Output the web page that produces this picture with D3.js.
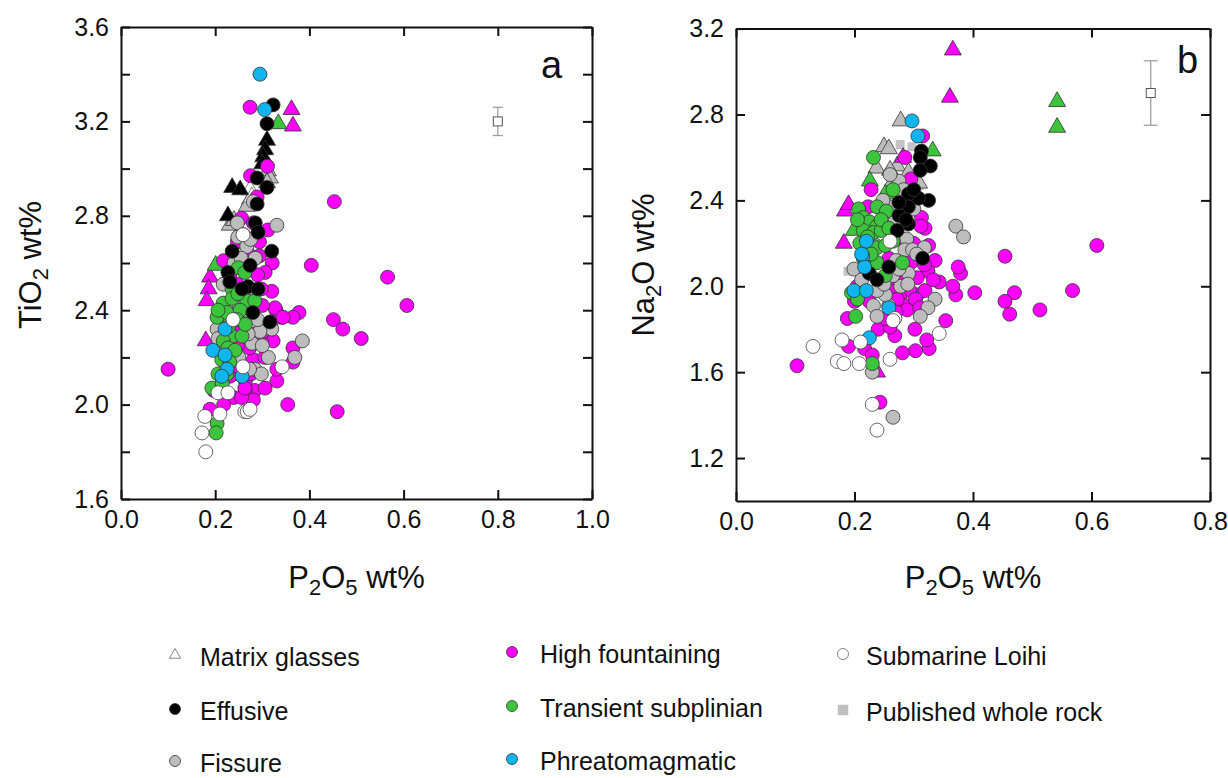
<!DOCTYPE html>
<html><head><meta charset="utf-8">
<script src="https://cdn.jsdelivr.net/npm/d3@7"></script>
<style>
body{margin:0;background:#fff;}
svg text{font-family:"Liberation Sans",Arial,Helvetica,sans-serif;fill:#111;}
</style></head>
<body><svg id="c" width="1228" height="778"></svg>
<script>
// ---------- Panel a : P2O5 vs TiO2 ----------
const aHighCirc=[[0.10,2.15],[0.274,3.26],[0.453,2.86],[0.404,2.59],[0.566,2.54],[0.607,2.42],[0.451,2.36],[0.471,2.32],[0.510,2.28],[0.459,1.97],[0.354,2.00],[0.378,2.39],[0.365,2.37],[0.341,2.37],[0.329,2.40],[0.320,2.48],[0.321,2.60],[0.311,3.01],[0.312,2.74],[0.275,2.97],[0.256,2.79],[0.218,2.61],[0.294,2.63],[0.294,2.69],[0.306,2.56],[0.323,2.27],[0.365,2.24],[0.365,2.18],[0.331,2.10],[0.331,2.15],[0.284,2.06],[0.264,2.06],[0.239,2.03],[0.218,2.00],[0.189,1.98],[0.197,2.06],[0.281,2.19],[0.298,2.27],[0.273,2.24],[0.298,2.49],[0.281,2.44],[0.273,2.37],[0.252,2.32],[0.247,2.25],[0.264,2.10],[0.281,2.02],[0.247,2.51],[0.231,2.54],[0.264,2.57],[0.239,2.13],[0.289,2.88],[0.281,2.77],[0.247,2.69],[0.319,2.35],[0.302,2.31],[0.214,2.24],[0.231,2.12],[0.256,2.03],[0.327,2.41],[0.344,2.37],[0.306,2.07],[0.263,2.07],[0.300,2.42],[0.285,2.30],[0.305,2.20],[0.270,2.64],[0.290,2.55],[0.250,2.16],[0.276,2.13]];
const aHighTri=[[0.362,3.25],[0.365,3.18],[0.189,2.54],[0.186,2.49],[0.182,2.44],[0.180,2.27]];
const aGreenTri=[[0.334,3.19],[0.201,2.59]];
const aBlackTri=[[0.310,3.12],[0.306,3.08],[0.302,3.05],[0.300,3.02],[0.236,2.92],[0.253,2.91],[0.227,2.80]];
const aGrayTri=[[0.312,2.99],[0.316,2.96],[0.274,2.87],[0.267,2.84],[0.231,2.76],[0.310,2.94],[0.240,2.78]];
const aWhiteTri=[[0.274,2.91],[0.278,2.88]];
const aBlackCirc=[[0.323,3.27],[0.310,3.19],[0.289,2.96],[0.310,2.92],[0.289,2.85],[0.285,2.77],[0.291,2.73],[0.320,2.65],[0.236,2.65],[0.227,2.56],[0.231,2.52],[0.274,2.59],[0.270,2.50],[0.291,2.49],[0.280,2.39],[0.316,2.35],[0.257,2.49]];
const aGrayCirc=[[0.331,2.76],[0.385,2.27],[0.369,2.20],[0.313,2.20],[0.284,2.15],[0.278,2.26],[0.320,2.32],[0.295,2.31],[0.248,2.71],[0.267,2.67],[0.285,2.62],[0.204,2.32],[0.206,2.28],[0.247,2.39],[0.264,2.40],[0.298,2.13],[0.273,2.15],[0.281,2.86],[0.247,2.77],[0.222,2.42],[0.240,2.60],[0.270,2.30],[0.250,2.20],[0.290,2.36],[0.217,2.51],[0.260,2.72],[0.255,2.62],[0.275,2.70],[0.232,2.35],[0.260,2.45],[0.212,2.22],[0.300,2.25]];
const aGreenCirc=[[0.249,2.58],[0.263,2.56],[0.236,2.49],[0.217,2.43],[0.236,2.45],[0.267,2.44],[0.284,2.44],[0.204,2.37],[0.225,2.39],[0.253,2.40],[0.246,2.36],[0.236,2.29],[0.257,2.29],[0.217,2.27],[0.227,2.24],[0.242,2.23],[0.214,2.19],[0.231,2.18],[0.206,2.13],[0.225,2.13],[0.193,2.07],[0.204,1.92],[0.202,1.88],[0.264,2.34],[0.206,2.40],[0.228,2.33],[0.248,2.47],[0.215,2.09]];
const aCyan=[[0.295,3.40],[0.305,3.25],[0.221,2.32],[0.195,2.23],[0.221,2.21],[0.225,2.15],[0.214,2.12],[0.257,2.12]];
const aWhite=[[0.238,2.36],[0.259,2.16],[0.342,2.16],[0.206,2.05],[0.227,2.05],[0.210,1.96],[0.178,1.95],[0.172,1.88],[0.180,1.80],[0.259,2.72],[0.263,1.97],[0.268,1.97],[0.274,1.98]];
const aErr=[0.80,3.20,3.14,3.26];

// ---------- Panel b : P2O5 vs Na2O ----------
const bHighCirc=[[0.103,1.63],[0.609,2.19],[0.454,2.14],[0.568,1.98],[0.513,1.89],[0.470,1.97],[0.454,1.93],[0.462,1.87],[0.403,1.97],[0.379,2.06],[0.371,1.96],[0.366,2.00],[0.343,2.02],[0.354,1.84],[0.326,1.71],[0.322,1.75],[0.303,1.70],[0.281,1.69],[0.302,1.80],[0.268,1.77],[0.240,1.80],[0.260,1.81],[0.188,1.85],[0.190,1.72],[0.217,1.71],[0.230,1.68],[0.243,1.46],[0.319,2.27],[0.313,2.32],[0.325,2.19],[0.336,2.12],[0.324,2.07],[0.295,2.50],[0.228,2.45],[0.223,2.37],[0.315,2.70],[0.285,2.60],[0.306,1.96],[0.293,1.98],[0.276,1.95],[0.265,2.00],[0.306,2.04],[0.285,1.91],[0.265,2.04],[0.295,2.11],[0.280,2.22],[0.258,2.13],[0.200,1.93],[0.225,1.93],[0.252,1.85],[0.205,2.00],[0.375,2.09],[0.319,1.98],[0.303,1.94],[0.289,1.89],[0.272,1.94],[0.333,2.03],[0.312,2.28],[0.300,2.20],[0.318,2.10],[0.245,2.02],[0.280,2.05],[0.310,1.90],[0.270,1.88]];
const bHighTri=[[0.366,3.10],[0.361,2.88],[0.182,2.20],[0.184,2.35],[0.190,2.38],[0.238,1.60],[0.282,2.60]];
const bGreenTri=[[0.542,2.86],[0.542,2.74],[0.332,2.63],[0.226,2.49],[0.199,2.26],[0.252,2.43]];
const bGrayTri=[[0.278,2.77],[0.250,2.65],[0.258,2.64],[0.237,2.55],[0.272,2.56],[0.265,2.49],[0.291,2.53],[0.309,2.48],[0.260,2.54]];
const bSquare=[[0.277,2.66],[0.297,2.65],[0.189,2.07],[0.310,2.47]];
const bBlackCirc=[[0.313,2.63],[0.311,2.60],[0.328,2.56],[0.311,2.54],[0.325,2.40],[0.308,2.41],[0.291,2.43],[0.291,2.37],[0.275,2.33],[0.291,2.29],[0.275,2.39],[0.315,2.13],[0.258,2.09],[0.225,2.06],[0.238,2.03],[0.272,2.26],[0.287,2.31],[0.300,2.45]];
const bGrayCirc=[[0.371,2.28],[0.384,2.23],[0.336,1.94],[0.324,1.90],[0.311,1.86],[0.230,1.60],[0.265,1.39],[0.232,1.91],[0.238,1.86],[0.258,1.91],[0.278,2.00],[0.291,2.06],[0.265,2.05],[0.252,1.96],[0.238,1.98],[0.275,2.49],[0.288,2.22],[0.285,2.17],[0.298,2.17],[0.318,2.18],[0.265,2.22],[0.199,2.08],[0.212,2.03],[0.236,2.19],[0.258,2.37],[0.305,2.15],[0.270,2.12],[0.250,2.28],[0.283,2.45],[0.260,2.52],[0.300,2.36],[0.275,2.08],[0.250,2.01],[0.290,2.01],[0.268,2.30],[0.248,2.40]];
const bGreenCirc=[[0.232,2.60],[0.265,2.45],[0.238,2.37],[0.207,2.36],[0.254,2.35],[0.215,2.32],[0.225,2.30],[0.238,2.28],[0.215,2.26],[0.232,2.25],[0.245,2.26],[0.209,2.20],[0.225,2.19],[0.238,2.18],[0.252,2.19],[0.265,2.21],[0.215,2.13],[0.238,2.11],[0.252,2.05],[0.281,2.11],[0.195,1.97],[0.205,1.94],[0.202,1.86],[0.230,1.64],[0.222,2.23],[0.245,2.31],[0.258,2.27],[0.205,2.31],[0.228,2.15]];
const bCyan=[[0.297,2.77],[0.307,2.70],[0.220,2.21],[0.214,2.14],[0.217,2.09],[0.199,1.98],[0.220,1.98],[0.258,1.90],[0.225,1.76],[0.212,2.15]];
const bWhite=[[0.130,1.72],[0.171,1.65],[0.182,1.64],[0.179,1.75],[0.210,1.74],[0.208,1.64],[0.260,1.66],[0.268,1.85],[0.343,1.78],[0.230,1.45],[0.238,1.33],[0.260,2.21],[0.265,1.84]];
const bErr=[0.70,2.90,2.75,3.05];

// ---------- ticks / labels ----------
const aXTicks=[0,0.2,0.4,0.6,0.8,1.0];
const aYTicks=[1.6,1.8,2.0,2.2,2.4,2.6,2.8,3.0,3.2,3.4,3.6];
const aYLabels=[1.6,2.0,2.4,2.8,3.2,3.6];
const bXTicks=[0,0.2,0.4,0.6,0.8];
const bYTicks=[1.2,1.6,2.0,2.4,2.8,3.2];
const legendItems=[
 ["Matrix glasses","tri","#ffffff"],["Effusive","circ","#000000"],["Fissure","circ","#bdbdbd"],
 ["High fountaining","circ","#ff00ff"],["Transient subplinian","circ","#3cc43c"],["Phreatomagmatic","circ","#10b4ee"],
 ["Submarine Loihi","circ","#ffffff"],["Published whole rock","sq","#c0c0c0"]];

const C={mag:"#ff00ff",grn:"#3cc43c",cyan:"#10b4ee",gray:"#bdbdbd",blk:"#000000",wht:"#ffffff"};
const svg=d3.select("#c");
const R=7, TRI=125;

function panel(o){
  const g=svg.append("g");
  const x=d3.scaleLinear().domain(o.xd).range(o.xr);
  const y=d3.scaleLinear().domain(o.yd).range(o.yr);
  const fmt=d3.format(".1f");
  const ax=(gen,tr,vals,lab,pad)=>{
    const a=g.append("g").attr("transform",tr).call(gen.tickValues(vals).tickSizeInner(-9).tickSizeOuter(0).tickPadding(pad)
      .tickFormat(d=>lab&&lab.some(v=>Math.abs(v-d)<1e-9)?fmt(d):""));
    a.select(".domain").attr("stroke","#111").attr("stroke-width",2);
    a.selectAll(".tick line").attr("stroke","#111").attr("stroke-width",2);
    a.selectAll("text").attr("font-size",25).attr("fill","#111").attr("font-family","Liberation Sans, Arial, sans-serif");
  };
  ax(d3.axisBottom(x),`translate(0,${o.yr[0]})`,o.xt,o.xt,11);
  ax(d3.axisTop(x),`translate(0,${o.yr[1]})`,o.xt,null,4);
  ax(d3.axisLeft(y),`translate(${o.xr[0]},0)`,o.yt,o.yl,12);
  ax(d3.axisRight(y),`translate(${o.xr[1]},0)`,o.yt,null,4);
  // error bar
  const e=o.err, ex=x(e[0]);
  g.append("line").attr("x1",ex).attr("x2",ex).attr("y1",y(e[2])).attr("y2",y(e[3])).attr("stroke","#999").attr("stroke-width",1.2);
  [e[2],e[3]].forEach(v=>g.append("line").attr("x1",ex-o.cap).attr("x2",ex+o.cap).attr("y1",y(v)).attr("y2",y(v)).attr("stroke","#999").attr("stroke-width",1.2));
  g.append("rect").attr("x",ex-4.5).attr("y",y(e[1])-4.5).attr("width",9).attr("height",9).attr("fill","#fff").attr("stroke","#555").attr("stroke-width",1);
  // marks
  const tri=d3.symbol().type(d3.symbolTriangle).size(TRI);
  const sq=d3.symbol().type(d3.symbolSquare).size(80);
  o.series.forEach(s=>{
    const sel=g.append("g").selectAll("path").data(s.d).join("path")
      .attr("transform",d=>`translate(${x(d[0])},${y(d[1])})`)
      .attr("fill",s.c);
    if(s.t==="tri") sel.attr("d",tri).attr("stroke",s.c===C.wht?"#666":"#333").attr("stroke-width",0.8);
    else if(s.t==="sq") sel.attr("d",sq).attr("stroke","none");
    else sel.attr("d",d3.symbol().type(d3.symbolCircle).size(Math.PI*R*R)).attr("stroke",s.c===C.wht?"#444":"#333").attr("stroke-width",0.8);
  });
  // titles
  const xt=g.append("text").attr("x",(o.xr[0]+o.xr[1])/2).attr("y",588).attr("text-anchor","middle").attr("font-size",31);
  xt.append("tspan").text("P");
  xt.append("tspan").text("2").attr("font-size",22).attr("dy",7);
  xt.append("tspan").text("O").attr("dy",-7);
  xt.append("tspan").text("5").attr("font-size",22).attr("dy",7);
  xt.append("tspan").text(" wt%").attr("dy",-7);
  const yt=g.append("text").attr("transform",`translate(${o.ytx},265) rotate(-90)`).attr("text-anchor","middle").attr("font-size",31);
  yt.append("tspan").text(o.yname[0]);
  yt.append("tspan").text("2").attr("font-size",22).attr("dy",7);
  yt.append("tspan").text(o.yname[1]).attr("dy",-7);
  g.append("text").attr("x",o.lx).attr("y",o.ly).attr("font-size",38).text(o.letter);
}

panel({xd:[0,1],xr:[121,592],yd:[1.6,3.6],yr:[499,27],xt:aXTicks,yt:aYTicks,yl:aYLabels,err:aErr,cap:5,
  ytx:41,yname:["TiO"," wt%"],letter:"a",lx:541,ly:78,
  series:[
   {d:aGrayTri,c:C.gray,t:"tri"},{d:aWhiteTri,c:C.wht,t:"tri"},{d:aHighTri,c:C.mag,t:"tri"},{d:aGreenTri,c:C.grn,t:"tri"},{d:aBlackTri,c:C.blk,t:"tri"},
   {d:aHighCirc,c:C.mag},{d:aGrayCirc,c:C.gray},{d:aGreenCirc,c:C.grn},{d:aBlackCirc,c:C.blk},{d:aCyan,c:C.cyan},{d:aWhite,c:C.wht}]});
panel({xd:[0,0.8],xr:[736,1210],yd:[1.0,3.2],yr:[501,28.6],xt:bXTicks,yt:bYTicks,yl:bYTicks,err:bErr,cap:7,
  ytx:654,yname:["Na","O wt%"],letter:"b",lx:1177,ly:73,
  series:[
   {d:bSquare,c:"#c4c4c4",t:"sq"},{d:bGrayTri,c:C.gray,t:"tri"},{d:bHighTri,c:C.mag,t:"tri"},{d:bGreenTri,c:C.grn,t:"tri"},
   {d:bHighCirc,c:C.mag},{d:bGrayCirc,c:C.gray},{d:bGreenCirc,c:C.grn},{d:bBlackCirc,c:C.blk},{d:bCyan,c:C.cyan},{d:bWhite,c:C.wht}]});

// legend
const lpos=[[175,200,658],[175,200,712],[175,200,764],[512,540,655],[512,540,709],[512,540,762],[843,866,657],[843,866,713]];
const lg=svg.append("g");
legendItems.forEach((it,i)=>{
  const [sx,tx,yy]=lpos[i];
  let sym;
  if(it[1]==="tri") sym=d3.symbol().type(d3.symbolTriangle).size(55)();
  else if(it[1]==="sq") sym=d3.symbol().type(d3.symbolSquare).size(110)();
  else sym=d3.symbol().type(d3.symbolCircle).size(Math.PI*5.5*5.5)();
  lg.append("path").attr("d",sym).attr("transform",`translate(${sx},${yy-3})`).attr("fill",it[2])
    .attr("stroke",it[1]==="sq"?"none":(it[2]==="#ffffff"?"#666":"#333")).attr("stroke-width",0.8);
  lg.append("text").attr("x",tx).attr("y",yy+8).attr("font-size",25).attr("fill","#222").text(it[0]);
});
</script></body></html>
